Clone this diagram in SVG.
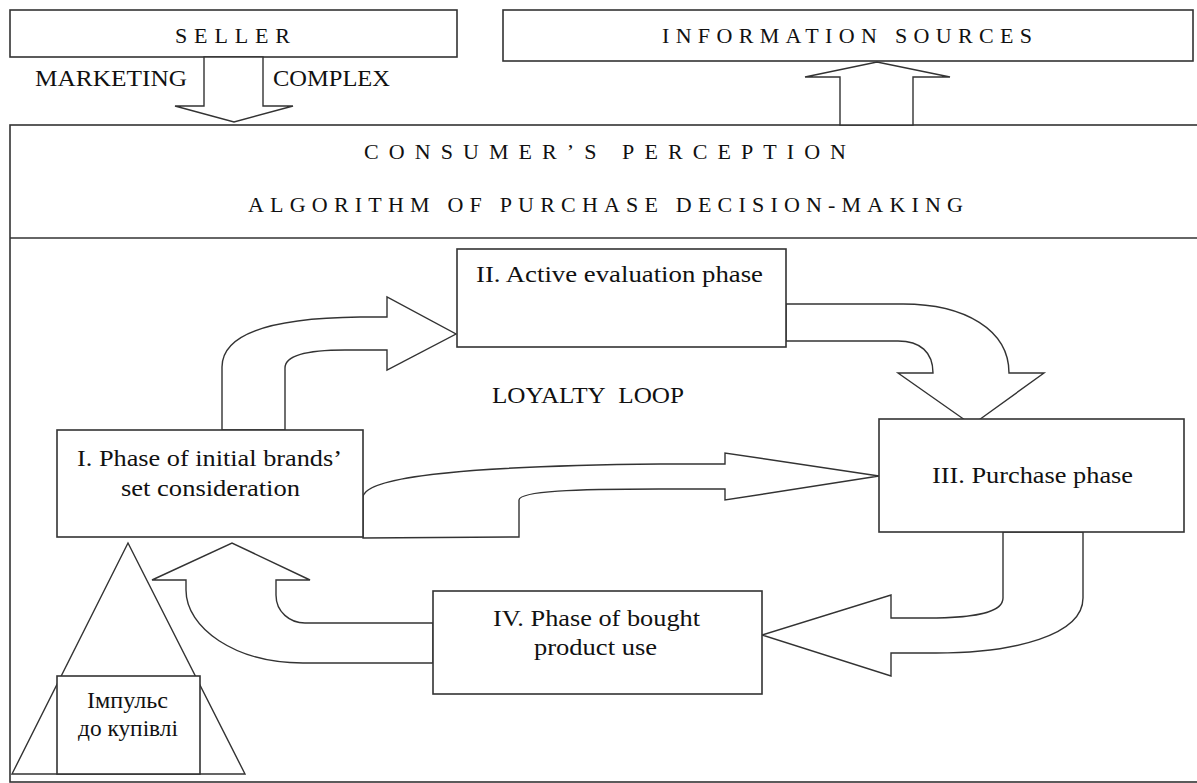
<svg xmlns="http://www.w3.org/2000/svg" width="1197" height="783" viewBox="0 0 1197 783" font-family="Liberation Serif, Times New Roman, Times, DejaVu Serif, Noto Serif, serif">
<style>
.box{fill:#fff;stroke:#333;stroke-width:1.6}
.arr{fill:#fff;stroke:#333;stroke-width:1.4;stroke-linejoin:miter}
.hdr{font-size:22px;fill:#111}
.t{font-size:24px;fill:#111}
</style>
<rect width="1197" height="783" fill="#fff"/>
<g id="consumer">
<rect class="box" x="10" y="125" width="1195" height="657"/>
<line x1="10" y1="238" x2="1197" y2="238" stroke="#333" stroke-width="1.6"/>
<text class="hdr" x="364" y="159" font-size="23" textLength="482" lengthAdjust="spacing">CONSUMER’S PERCEPTION</text>
<text class="hdr" x="248" y="212" font-size="23" textLength="715" lengthAdjust="spacing">ALGORITHM OF PURCHASE DECISION-MAKING</text>
</g>
<g id="seller">
<rect class="box" x="10" y="10" width="447" height="47"/>
<text class="hdr" x="175" y="43" textLength="115" lengthAdjust="spacing">SELLER</text>
</g>
<g id="info">
<rect class="box" x="503" y="10" width="690" height="51"/>
<text class="hdr" x="662" y="43" textLength="370" lengthAdjust="spacing">INFORMATION SOURCES</text>
</g>
<g id="connectors">
<path class="arr" d="M204 57 L204 106 L175 106 L234 122 L293 106 L263 106 L263 57 Z"/>
<text class="t" x="35" y="86" textLength="152" lengthAdjust="spacingAndGlyphs">MARKETING</text>
<text class="t" x="273" y="86" textLength="117" lengthAdjust="spacingAndGlyphs">COMPLEX</text>
<path class="arr" d="M840 125 L840 77 L805 77 L877 62 L950 77 L913 77 L913 125 Z"/>
<path class="arr" d="M222 430 L222 367 C222 335 268 318 360 317 L387 317 L387 297 L456 334 L387 370 L387 350 L345 350 C305 350 285 356 285 368 L285 430 Z"/>
<path class="arr" d="M786 304 L903 304 C965 304 1009 330 1009 373 L1044 373 L972 425 L898 373 L933 373 C933 352 920 341 898 341 L786 341 Z"/>
<path class="arr" d="M363 538 L363 497 C365 476 470 466 660 464 L725 464 L725 453 L879 476 L725 500 L725 489 L659 489 C575 489 520 491 519 500 L519 537 Z"/>
<path class="arr" d="M1083 532 L1083 598 C1083 635 1015 653 936 653 L891 653 L891 676 L762 635 L891 595 L891 618 L927 618 C985 618 1003 610 1003 598 L1003 532 Z"/>
<path class="arr" d="M433 663 L303 663 C235 663 186 628 186 590 L186 580 L152 580 L232 543 L310 580 L276 580 L276 595 C276 612 290 623 305 623 L433 623 Z"/>
<text class="t" x="492" y="403" textLength="192" lengthAdjust="spacingAndGlyphs">LOYALTY&#160; LOOP</text>
</g>
<g id="phase1">
<rect class="box" x="57" y="430" width="306" height="107"/>
<text class="t" x="77" y="466" textLength="265" lengthAdjust="spacingAndGlyphs">I. Phase of initial brands’</text>
<text class="t" x="121" y="496" textLength="179" lengthAdjust="spacingAndGlyphs">set consideration</text>
</g>
<g id="phase2">
<rect class="box" x="457" y="249" width="329" height="98"/>
<text class="t" x="476" y="282" textLength="287" lengthAdjust="spacingAndGlyphs">II. Active evaluation phase</text>
</g>
<g id="phase3">
<rect class="box" x="879" y="419" width="305" height="113"/>
<text class="t" x="932" y="483" textLength="201" lengthAdjust="spacingAndGlyphs">III. Purchase phase</text>
</g>
<g id="phase4">
<rect class="box" x="433" y="591" width="329" height="103"/>
<text class="t" x="493" y="626" textLength="207" lengthAdjust="spacingAndGlyphs">IV. Phase of bought</text>
<text class="t" x="534" y="655" textLength="123" lengthAdjust="spacingAndGlyphs">product use</text>
</g>
<g id="impulse">
<path d="M128 543 L12 774 L245 774 Z" fill="#fff" stroke="#333" stroke-width="1.4"/>
<rect class="box" x="57" y="676" width="143" height="98"/>
<text class="t" x="87" y="708" textLength="81" lengthAdjust="spacingAndGlyphs">Імпульс</text>
<text class="t" x="78" y="736" textLength="100" lengthAdjust="spacingAndGlyphs">до купівлі</text>
</g>
</svg>
